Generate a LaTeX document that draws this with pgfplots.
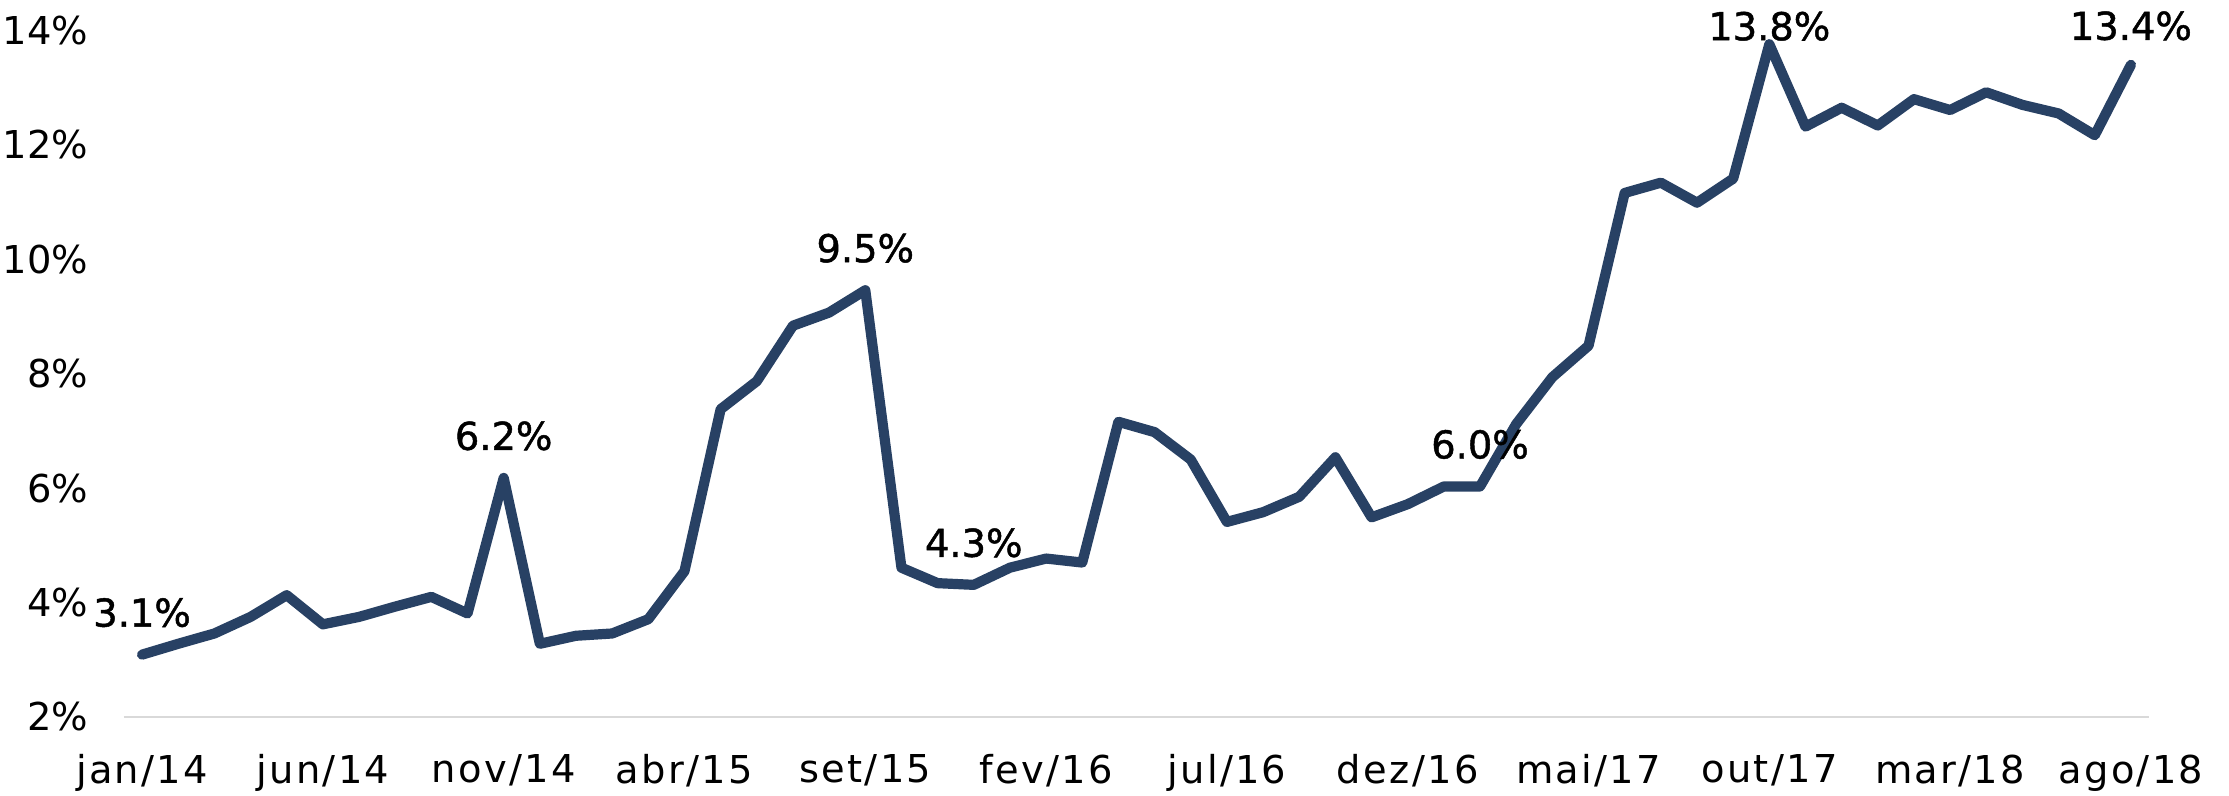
\documentclass[border=0pt]{standalone}
\usepackage{fontspec}
\setmainfont{DejaVu Sans}
\newfontfamily\labfont[FakeBold=1.2]{DejaVu Sans}
\newfontfamily\xfont[LetterSpace=6]{DejaVu Sans}
\usepackage{pgfplots}
\pgfplotsset{compat=1.18}
\definecolor{linecol}{RGB}{40,65,100}
\definecolor{axgray}{RGB}{217,217,217}
\begin{document}
\begin{tikzpicture}
\begin{axis}[
  scale only axis,
  width=675pt, height=228.83pt,
  xmin=-0.5, xmax=55.5,
  ymin=2, ymax=14,
  clip=false,
  axis x line=bottom,
  axis y line=left,
  x axis line style={draw=axgray, line width=0.5pt, -},
  y axis line style={draw=none},
  major tick length=0pt,
  tick style={draw=none},
  xtick={0,5,...,55},
  xticklabels={jan/14,jun/14,nov/14,abr/15,set/15,fev/16,jul/16,dez/16,mai/17,out/17,mar/18,ago/18},
  ytick={2,4,...,14},
  yticklabels={2\%,4\%,6\%,8\%,10\%,12\%,14\%},
  yticklabel style={font=\fontsize{12.8}{15}\selectfont, text=black, xshift=-8.4pt},
  xticklabel style={font=\xfont\fontsize{12.8}{15}\selectfont, text=black, yshift=-9pt},
]
\addplot[color=linecol, line width=3.4pt, line join=round, line cap=round] table {
x y
0 3.09
1 3.28
2 3.46
3 3.75
4 4.13
5 3.62
6 3.75
7 3.93
8 4.10
9 3.81
10 6.18
11 3.28
12 3.42
13 3.46
14 3.71
15 4.55
16 7.38
17 7.87
18 8.84
19 9.07
20 9.46
21 4.61
22 4.34
23 4.31
24 4.61
25 4.77
26 4.70
27 7.16
28 6.98
29 6.50
30 5.41
31 5.58
32 5.85
33 6.54
34 5.49
35 5.72
36 6.03
37 6.03
38 7.12
39 7.94
40 8.49
41 11.16
42 11.34
43 10.99
44 11.41
45 13.76
46 12.32
47 12.65
48 12.34
49 12.80
50 12.61
51 12.92
52 12.70
53 12.55
54 12.17
55 13.40
};
\coordinate (bl) at (rel axis cs:0,0);
\coordinate (tr) at (rel axis cs:1,1);
\begin{scope}[every node/.style={font=\labfont\fontsize{12.8}{15}\selectfont, inner sep=0pt}]
\node[yshift=14pt] at (axis cs:0,3.09) {3.1\%};
\node[yshift=14pt] at (axis cs:10,6.18) {6.2\%};
\node[yshift=14pt] at (axis cs:20,9.46) {9.5\%};
\node[yshift=14pt] at (axis cs:23,4.31) {4.3\%};
\node[yshift=14pt] at (axis cs:37,6.03) {6.0\%};
\node[yshift=6pt] at (axis cs:45,13.76) {13.8\%};
\node[yshift=13pt] at (axis cs:55,13.40) {13.4\%};
\end{scope}
\end{axis}
\pgfresetboundingbox
\path ([xshift=-41.33pt,yshift=-26.33pt]bl) rectangle ([xshift=26.67pt,yshift=10.17pt]tr);
\end{tikzpicture}
\end{document}
